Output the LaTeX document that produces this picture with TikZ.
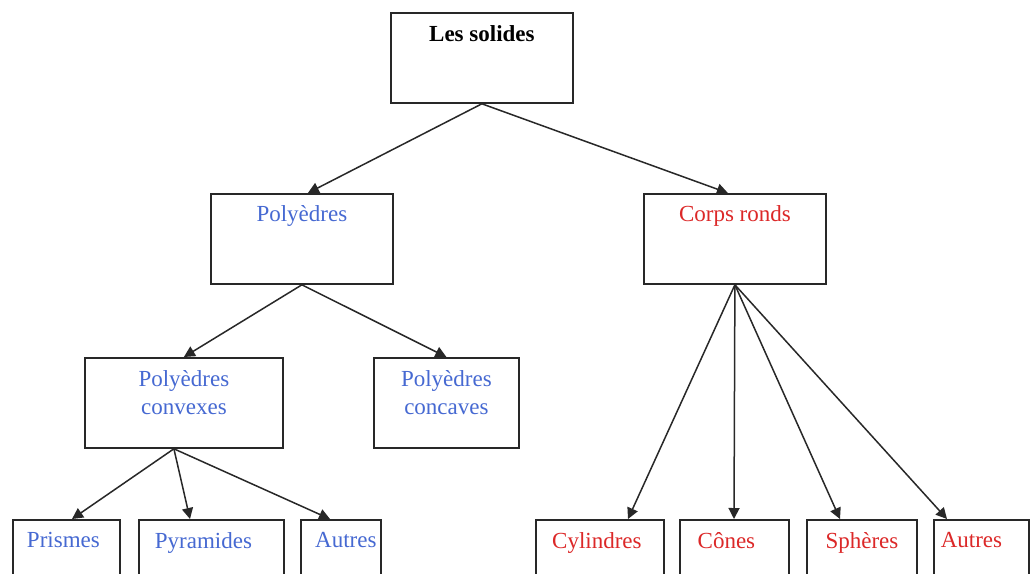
\documentclass[tikz,border=0pt]{standalone}
\usepackage{fontspec}
\setmainfont{Liberation Serif}
\usetikzlibrary{arrows.meta}
\definecolor{tblue}{RGB}{70,105,210}
\definecolor{tred}{RGB}{220,40,40}
\definecolor{lin}{RGB}{40,40,40}
\tikzset{
  box/.style={draw=lin, line width=1.8pt, inner sep=0pt, anchor=north west, fill=white},
  txt/.style={anchor=north, inner sep=0pt, font=\fontsize{23}{28}\selectfont, align=center},
  conn/.style={draw=lin, line width=1.5pt, -{Triangle[length=11pt,width=11pt]}}
}
\newcommand{\bx}[6]{%
  \node[box, minimum width=#4pt, minimum height=#5pt] (#1) at (#2,#3) {};}
\begin{document}
\begin{tikzpicture}[x=1pt,y=-1pt]
\useasboundingbox (0,0) rectangle (1033,573);
\clip (0,0) rectangle (1033,573);
\fill[white] (0,0) rectangle (1033,573);
% boxes
\bx{top}{390}{12}{182}{90}{}
\bx{poly}{210}{193}{182}{90}{}
\bx{corps}{643}{193}{182}{90}{}
\bx{conv}{84}{357}{198}{90}{}
\bx{conc}{373}{357}{145}{90}{}
\bx{pri}{12}{519}{107}{90}{}
\bx{pyr}{138}{519}{145}{90}{}
\bx{aut1}{300}{519}{80}{90}{}
\bx{cyl}{535}{519}{128}{90}{}
\bx{con}{679}{519}{109}{90}{}
\bx{sph}{806}{519}{110}{90}{}
\bx{aut2}{933}{519}{95}{90}{}
% texts
\node[txt, font=\fontsize{23}{28}\selectfont\bfseries] (ttop) at ([yshift=-13pt]top.north) {Les solides};
\node[txt, text=tblue] (tpoly) at ([yshift=-12pt]poly.north) {Polyèdres};
\node[txt, text=tred] (tcorps) at ([yshift=-12pt]corps.north) {Corps ronds};
\node[txt, text=tblue] (tconv) at ([yshift=-13pt]conv.north) {Polyèdres\\convexes};
\node[txt, text=tblue] (tconc) at ([yshift=-13pt]conc.north) {Polyèdres\\concaves};
\node[txt, text=tblue] (tpri) at ([yshift=-13pt,xshift=-3pt]pri.north) {Prismes};
\node[txt, text=tblue] (tpyr) at ([yshift=-13pt,xshift=-8pt]pyr.north) {Pyramides};
\node[txt, text=tblue] (taut1) at ([yshift=-13pt,xshift=5pt]aut1.north) {Autres};
\node[txt, text=tred] (tcyl) at ([yshift=-13pt,xshift=-3pt]cyl.north) {Cylindres};
\node[txt, text=tred] (tcon) at ([yshift=-13pt,xshift=-8pt]con.north) {Cônes};
\node[txt, text=tred] (tsph) at ([yshift=-13pt]sph.north) {Sphères};
\node[txt, text=tred] (taut2) at ([yshift=-13pt,xshift=-10pt]aut2.north) {Autres};
% connectors
\draw[conn] (top.south) -- ([xshift=6pt]poly.north);
\draw[conn] (top.south) -- ([xshift=-7pt]corps.north);
\draw[conn] (poly.south) -- (conv.north);
\draw[conn] (poly.south) -- (conc.north);
\draw[conn] ([xshift=-10pt]conv.south) -- ([xshift=60pt]pri.north west);
\draw[conn] ([xshift=-10pt]conv.south) -- ([xshift=52pt]pyr.north west);
\draw[conn] ([xshift=-10pt]conv.south) -- ([xshift=30pt]aut1.north west);
\draw[conn] (corps.south) -- ([xshift=93pt]cyl.north west);
\draw[conn] (corps.south) -- ([xshift=55pt]con.north west);
\draw[conn] (corps.south) -- ([xshift=34pt]sph.north west);
\draw[conn] (corps.south) -- ([xshift=14pt]aut2.north west);
\end{tikzpicture}
\end{document}
